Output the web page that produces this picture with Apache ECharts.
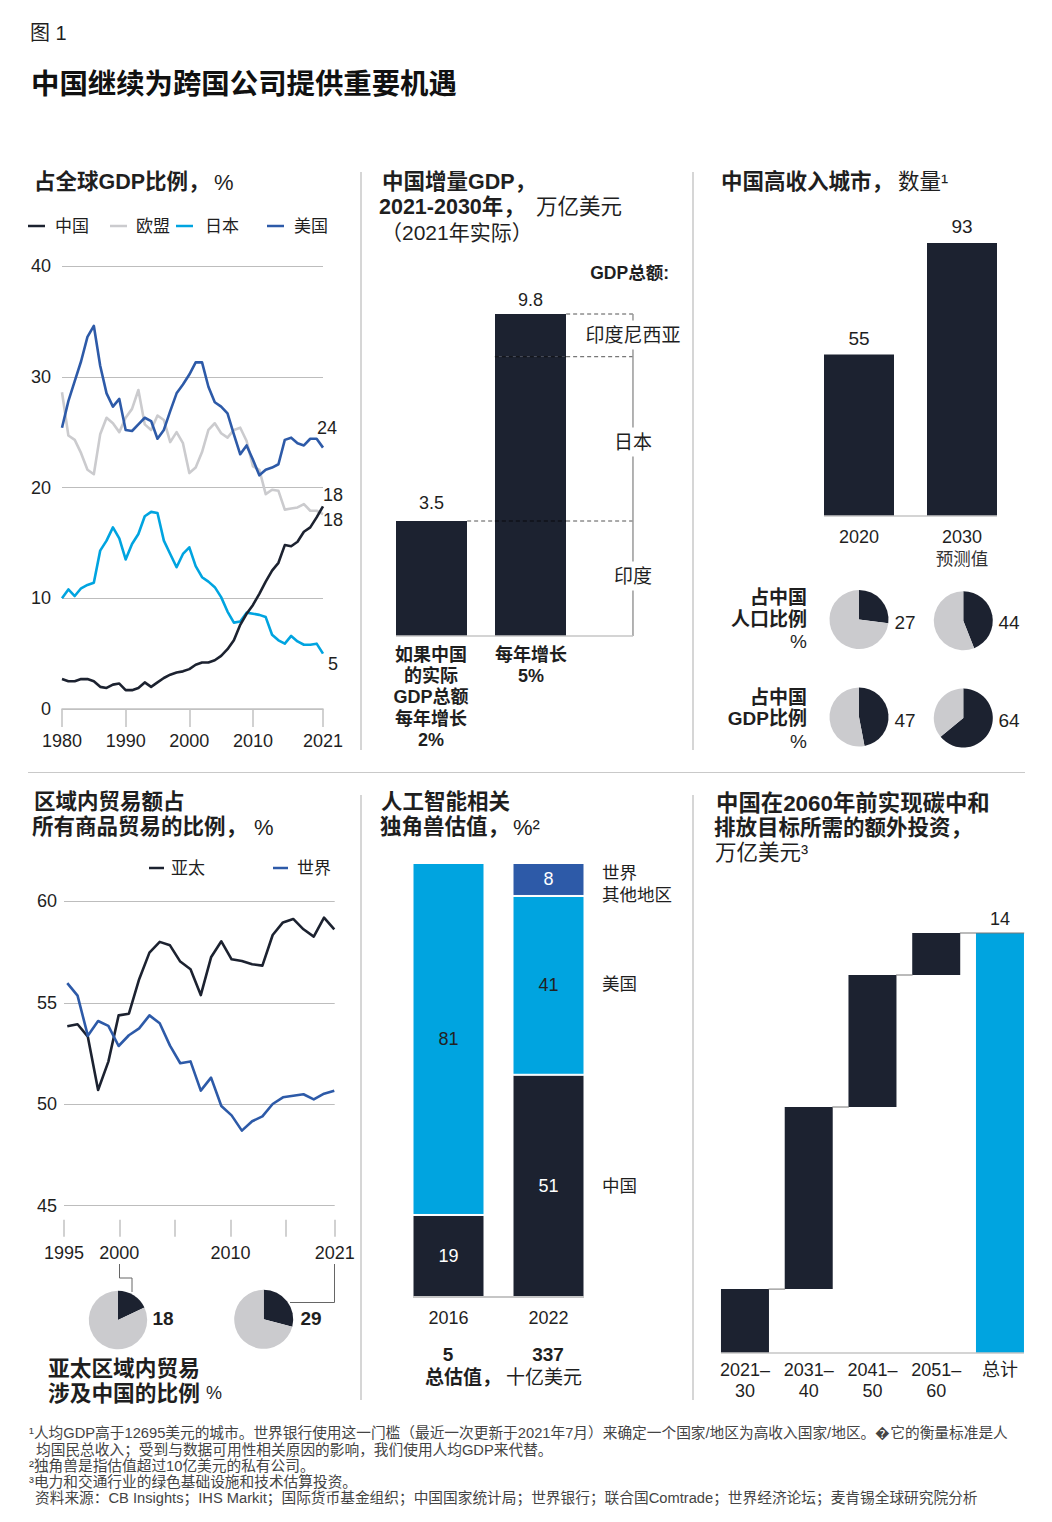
<!DOCTYPE html>
<html>
<head>
<meta charset="utf-8">
<title>中国继续为跨国公司提供重要机遇</title>
<script src="https://cdn.jsdelivr.net/npm/echarts@6/dist/echarts.min.js"></script>
<style>
	html, body { margin: 0; padding: 0; background: #fff; }
	#chart { width: 1052px; height: 1522px; }
</style>
</head>
<body>
<div id="chart"></div>
<script>
// 占全球GDP比例
const shareYears = [1980,1981,1982,1983,1984,1985,1986,1987,1988,1989,1990,1991,1992,1993,1994,1995,1996,1997,1998,1999,2000,2001,2002,2003,2004,2005,2006,2007,2008,2009,2010,2011,2012,2013,2014,2015,2016,2017,2018,2019,2020,2021];
const shareChina = [2.7,2.5,2.5,2.7,2.7,2.5,2.0,1.9,2.2,2.3,1.7,1.7,1.9,2.4,2.0,2.4,2.8,3.1,3.3,3.4,3.6,4.0,4.2,4.2,4.4,4.8,5.4,6.2,7.6,8.6,9.4,10.4,11.5,12.5,13.2,14.8,14.7,15.1,16.0,16.4,17.3,18.3];
const shareEU = [28.6,24.7,24.3,23.1,21.6,21.2,24.8,26.3,25.8,25.0,26.3,27.1,28.8,25.7,25.2,26.5,26.1,24.1,25.0,24.0,21.3,21.8,23.2,25.2,25.8,24.9,24.5,25.2,25.4,24.2,21.9,21.6,19.4,19.8,19.7,18.0,18.1,18.2,18.5,17.9,17.9,17.6];
const shareJapan = [10.0,10.8,10.2,10.9,11.2,11.4,14.3,15.2,16.4,15.4,13.5,14.9,15.8,17.4,17.8,17.7,15.2,14.0,12.8,14.0,14.6,12.9,11.9,11.5,11.0,10.1,8.8,7.8,7.9,8.7,8.6,8.5,8.3,6.7,6.2,5.9,6.6,6.1,5.8,5.8,5.9,5.0];
const shareUSA = [25.4,27.8,29.6,31.4,33.6,34.6,31.0,28.5,27.3,28.0,25.2,25.1,25.7,26.3,26.0,24.4,25.2,26.9,28.5,29.3,30.2,31.3,31.3,29.1,27.7,27.3,26.7,24.8,23.0,23.8,22.5,21.1,21.6,21.8,22.1,24.3,24.5,24.0,23.8,24.4,24.4,23.6];
const shareTicks = [1980, 1990, 2000, 2010, 2021];

// 中国增量GDP（第三列留给括号线和文字）
const gdpColumns = ['如果中国的实际GDP总额每年增长2%', '每年增长5%', ''];
const gdpIndia = [3.5, 3.5];
const gdpJapan = [0, 5.0];
const gdpIndonesia = [0, 1.3];
const gdpTotals = [3.5, 9.8];
const gdpBracketX = 3.035;

// 高收入城市
const cityYears = ['2020', '2030'];
const cityCounts = [55, 93];
const cityPopShare = [27, 44];
const cityGdpShare = [47, 64];

// 区域内贸易
const tradeYears = [1995,1996,1997,1998,1999,2000,2001,2002,2003,2004,2005,2006,2007,2008,2009,2010,2011,2012,2013,2014,2015,2016,2017,2018,2019,2020,2021];
const tradeAsia = [53.84,53.94,53.33,50.7,52.1,54.38,54.46,56.16,57.47,58.0,57.83,57.03,56.65,55.38,57.24,58.03,57.14,57.06,56.9,56.83,58.34,58.96,59.13,58.62,58.26,59.2,58.62];
const tradeWorld = [55.97,55.35,53.38,54.1,53.86,52.87,53.4,53.74,54.38,53.99,52.89,52.02,52.11,50.67,51.31,49.91,49.45,48.7,49.16,49.4,50.01,50.34,50.42,50.49,50.24,50.52,50.67];
const tradeTicks = [1994.68, 2000.07, 2005.5, 2010.9, 2016.3, 2021.04];
const tradeTickLabels = ['1995', '2000', '', '2010', '', '2021'];
const tradeChinaShare = [18, 29];

// 独角兽估值
const unicornYears = ['2016', '2022'];
const unicornChina = [18.9, 51.2];
const unicornUSA = [81.1, 41.2];
const unicornOther = [0, 7.6];

// 碳中和投资
const investPeriods = ['2021–\n30', '2031–\n40', '2041–\n50', '2051–\n60', '总计'];
const investBase = [0, 2.13, 8.2, 12.6, 0];
const investAdd = [2.13, 6.07, 4.4, 1.4, 14];
const investLevels = [2.13, 8.2, 12.6, 14];

const DARK = '#1c2230';
const GREY = '#cbcbce';
const SKY = '#00a4e0';
const BLUE = '#2d5aa8';
const FAMILY = '"Liberation Sans","Noto Sans CJK SC",sans-serif';
const INK = '#1f1f1f';

// 叠加用的隐藏数值轴序号
const GDP_X = 6, CITY_X = 7, UNICORN_X = 8, INVEST_X = 9;

const graphics = [];

function txt(x, y, text, size, bold, opts) {
	graphics.push({
		type: 'text', z: 20, silent: true,
		style: Object.assign({
			x: x, y: y, text: String(text),
			font: (bold ? 'bold ' : '') + size + 'px ' + FAMILY,
			fill: INK, align: 'left', verticalAlign: 'middle'
		}, opts || {})
	});
}

function rule(points, color, width) {
	graphics.push({
		type: 'polyline', z: 15, silent: true,
		shape: { points: points },
		style: { stroke: color, lineWidth: width, fill: null }
	});
}

// 版面文字
txt(30, 33, '图 1', 20, false);
txt(31, 84, '中国继续为跨国公司提供重要机遇', 28.4, true, { fill: '#111' });

txt(34, 182, '占全球GDP比例，', 21.5, true);
txt(214, 182, '%', 22, false);
txt(382, 182, '中国增量GDP，', 21.5, true);
txt(379, 207, '2021-2030年，', 21.5, true);
txt(536, 207, '万亿美元', 21.5, false);
txt(381, 232, '（2021年实际）', 21, false);
txt(721, 182, '中国高收入城市，', 21.5, true);
txt(898, 182, '数量¹', 21.5, false);

txt(34, 802, '区域内贸易额占', 21.5, true);
txt(32, 827, '所有商品贸易的比例，', 21.5, true);
txt(254, 827, '%', 22, false);
txt(381, 802, '人工智能相关', 21.5, true);
txt(380, 827, '独角兽估值，', 21.5, true);
txt(513, 827, '%²', 22, false);
txt(716, 803, '中国在2060年前实现碳中和', 22.4, true);
txt(714, 828, '排放目标所需的额外投资，', 21.5, true);
txt(715, 853, '万亿美元³', 21.5, false);

// 分隔线
rule([[361, 172], [361, 750]], '#c9c9c9', 1.5);
rule([[693, 172], [693, 750]], '#c9c9c9', 1.5);
rule([[28, 772.5], [1025, 772.5]], '#c9c9c9', 1);
rule([[361, 795], [361, 1400]], '#c9c9c9', 1.5);
rule([[693, 795], [693, 1400]], '#c9c9c9', 1.5);

// 图例
function legendItem(x0, x1, y, color, tx, label) {
	rule([[x0, y], [x1, y]], color, 2.5);
	txt(tx, y, label, 17, false);
}
legendItem(28, 45, 226, DARK, 55, '中国');
legendItem(110, 127, 226, GREY, 136, '欧盟');
legendItem(176, 193, 226, SKY, 205, '日本');
legendItem(267, 284, 226, BLUE, 294, '美国');
legendItem(149, 164, 868, DARK, 171, '亚太');
legendItem(273, 288, 868, BLUE, 297, '世界');

// 线尾数值
txt(327, 428, '24', 18, false, { align: 'center' });
txt(333, 495, '18', 18, false, { align: 'center' });
txt(333, 520, '18', 18, false, { align: 'center' });
txt(333, 664, '5', 18, false, { align: 'center' });

// GDP柱图文字
txt(669, 273, 'GDP总额:', 17.5, true, { align: 'right' });
[['印度尼西亚', 335], ['日本', 442], ['印度', 576]].forEach(function (d) {
	txt(633, d[1], d[0], 19, false, { align: 'center', backgroundColor: '#fff', padding: [5, 0] });
});
[['如果中国', 655], ['的实际', 676], ['GDP总额', 697], ['每年增长', 719], ['2%', 740]].forEach(function (d) {
	txt(431, d[1], d[0], 18, true, { align: 'center' });
});
txt(531, 655, '每年增长', 18, true, { align: 'center' });
txt(531, 676, '5%', 18, true, { align: 'center' });

// 城市饼图文字
txt(962, 559, '预测值', 17.5, false, { align: 'center', fill: '#333' });
[['占中国', 597, true], ['人口比例', 619, true], ['%', 641, false], ['占中国', 697, true], ['GDP比例', 718, true], ['%', 741, false]].forEach(function (d) {
	txt(807, d[1], d[0], 19, d[2], { align: 'right' });
});
txt(905, 622, cityPopShare[0], 19, false, { align: 'center' });
txt(1009, 622, cityPopShare[1], 19, false, { align: 'center' });
txt(905, 720, cityGdpShare[0], 19, false, { align: 'center' });
txt(1009, 720, cityGdpShare[1], 19, false, { align: 'center' });

// 贸易饼图文字
rule([[119.5, 1264], [119.5, 1278], [132, 1278], [132, 1292]], '#666', 1);
rule([[334.5, 1264], [334.5, 1302.5], [290, 1302.5]], '#666', 1);
txt(163, 1318, tradeChinaShare[0], 19, true, { align: 'center' });
txt(311, 1318, tradeChinaShare[1], 19, true, { align: 'center' });
txt(48, 1368, '亚太区域内贸易', 21.7, true);
txt(48, 1393, '涉及中国的比例', 21.7, true);
txt(206, 1393, '%', 18, false);

// 独角兽文字
txt(602, 873, '世界', 17.5, false);
txt(602, 895, '其他地区', 17.5, false);
txt(602, 984, '美国', 17.5, false);
txt(602, 1186, '中国', 17.5, false);
txt(448, 1354, '5', 19, true, { align: 'center' });
txt(548, 1354, '337', 19, true, { align: 'center' });
txt(425, 1377, '总估值，', 19, true);
txt(506, 1377, '十亿美元', 19, false);

// 脚注
const footnotes = [
	[29, 1433, '¹人均GDP高于12695美元的城市。世界银行使用这一门槛（最近一次更新于2021年7月）来确定一个国家/地区为高收入国家/地区。�它的衡量标准是人'],
	[36, 1450, '均国民总收入；受到与数据可用性相关原因的影响，我们使用人均GDP来代替。'],
	[29, 1466, '²独角兽是指估值超过10亿美元的私有公司。'],
	[29, 1482, '³电力和交通行业的绿色基础设施和技术估算投资。'],
	[35, 1498, '资料来源：CB Insights；IHS Markit；国际货币基金组织；中国国家统计局；世界银行；联合国Comtrade；世界经济论坛；麦肯锡全球研究院分析']
];
footnotes.forEach(function (d) {
	txt(d[0], d[1], d[2], 14.7, false, { fill: '#444' });
});

function zip(xs, ys) {
	return xs.map(function (x, i) { return [x, ys[i]]; });
}

function lineSeries(gridIndex, name, xs, ys, color, z) {
	return {
		type: 'line', name: name, xAxisIndex: gridIndex, yAxisIndex: gridIndex,
		data: zip(xs, ys), showSymbol: false, symbol: 'none', z: z, clip: false,
		lineStyle: { color: color, width: 2.6, join: 'round' }
	};
}

function barSeries(gridIndex, name, ys, color, width, extra) {
	return Object.assign({
		type: 'bar', name: name, xAxisIndex: gridIndex, yAxisIndex: gridIndex,
		data: ys, barWidth: width, itemStyle: { color: color }, z: 3
	}, extra || {});
}

// 叠加线：画在隐藏数值轴上
function overlay(xIndex, yIndex, points, style) {
	return {
		type: 'line', xAxisIndex: xIndex, yAxisIndex: yIndex, symbol: 'none', z: 5, clip: false,
		data: points, lineStyle: style
	};
}

function dashSeries(y, x0, x1, color) {
	return overlay(GDP_X, 1, [[x0, y], [x1, y]], { color: color, width: 1, type: [4, 3] });
}

function baseline(xIndex, yIndex, x0, x1, width) {
	return overlay(xIndex, yIndex, [[x0, 0], [x1, 0]], { color: '#c6c6c6', width: width || 1.5 });
}

function barXAxis(gridIndex, labels, margin) {
	return {
		type: 'category', gridIndex: gridIndex, data: labels,
		axisLine: { show: false }, axisTick: { show: false }, splitLine: { show: false },
		axisLabel: { show: margin > 0, interval: 0, margin: margin, color: INK, fontSize: 18, fontFamily: FAMILY, lineHeight: 21 }
	};
}

function overlayXAxis(gridIndex, count) {
	return { type: 'value', gridIndex: gridIndex, min: 0.5, max: count + 0.5, show: false, splitLine: { show: false } };
}

function hiddenY(gridIndex, max) {
	return { type: 'value', gridIndex: gridIndex, min: 0, max: max, show: false, splitLine: { show: false } };
}

function valueLabel(position, color, size, distance, formatter) {
	return {
		show: true, position: position, distance: distance, color: color, fontSize: size, fontFamily: FAMILY,
		formatter: formatter || function (p) { return p.value ? Math.round(p.value) : ''; }
	};
}

function pie(cx, cy, r, value) {
	return {
		type: 'pie', center: [cx, cy], radius: [0, r], startAngle: 90, clockwise: true,
		silent: true, label: { show: false }, labelLine: { show: false }, z: 4,
		data: [
			{ value: value, itemStyle: { color: DARK } },
			{ value: 100 - value, itemStyle: { color: GREY } }
		]
	};
}

const gdpLevel2 = gdpIndia[1] + gdpJapan[1];

const series = [
	// 占全球GDP比例
	lineSeries(0, '欧盟', shareYears, shareEU, GREY, 2),
	lineSeries(0, '日本', shareYears, shareJapan, SKY, 3),
	lineSeries(0, '中国', shareYears, shareChina, DARK, 4),
	lineSeries(0, '美国', shareYears, shareUSA, BLUE, 5),

	// 中国增量GDP
	barSeries(1, '印度', gdpIndia, DARK, 71, {
		stack: 'gdp',
		label: valueLabel('top', INK, 18, 9, function (p) { return p.dataIndex === 0 ? gdpTotals[0] : ''; })
	}),
	barSeries(1, '日本', gdpJapan, DARK, 71, { stack: 'gdp' }),
	barSeries(1, '印度尼西亚', gdpIndonesia, DARK, 71, {
		stack: 'gdp',
		label: valueLabel('top', INK, 18, 5, function (p) { return p.dataIndex === 1 ? gdpTotals[1] : ''; })
	}),
	dashSeries(gdpTotals[1], 2.36, gdpBracketX, '#555'),
	dashSeries(gdpLevel2, 1.64, 2.36, '#08090c'),
	dashSeries(gdpLevel2, 2.36, gdpBracketX, '#555'),
	dashSeries(gdpIndia[0], 1.36, 1.64, '#555'),
	dashSeries(gdpIndia[0], 1.64, 2.36, '#08090c'),
	dashSeries(gdpIndia[0], 2.36, gdpBracketX, '#555'),
	overlay(GDP_X, 1, [[gdpBracketX, 0], [gdpBracketX, gdpTotals[1]]], { color: '#999', width: 1.5 }),
	baseline(GDP_X, 1, 0.6414, gdpBracketX),

	// 高收入城市
	barSeries(2, '城市', cityCounts, DARK, 70, { label: valueLabel('top', INK, 19, 7) }),
	baseline(CITY_X, 2, 0.66, 2.34),
	pie(859, 619.5, 29.5, cityPopShare[0]),
	pie(963.3, 620.7, 29.5, cityPopShare[1]),
	pie(859, 717, 29.5, cityGdpShare[0]),
	pie(963.3, 718, 29.5, cityGdpShare[1]),

	// 区域内贸易
	lineSeries(3, '亚太', tradeYears, tradeAsia, DARK, 4),
	lineSeries(3, '世界', tradeYears, tradeWorld, BLUE, 5),
	pie(118, 1320, 29.2, tradeChinaShare[0]),
	pie(263.7, 1319.3, 29.5, tradeChinaShare[1]),

	// 独角兽估值
	barSeries(4, '中国', unicornChina, DARK, 72, {
		stack: 'unicorn',
		itemStyle: { color: DARK, borderColor: '#fff', borderWidth: 1 },
		label: valueLabel('inside', '#fff', 18)
	}),
	barSeries(4, '美国', unicornUSA, SKY, 72, {
		stack: 'unicorn',
		itemStyle: { color: SKY, borderColor: '#fff', borderWidth: 1 },
		label: valueLabel('inside', '#222', 18)
	}),
	barSeries(4, '世界其他地区', unicornOther, BLUE, 72, {
		stack: 'unicorn',
		itemStyle: { color: BLUE, borderColor: '#fff', borderWidth: 1 },
		label: valueLabel('inside', '#fff', 18)
	}),
	baseline(UNICORN_X, 4, 0.645, 2.355, 2),

	// 碳中和投资
	barSeries(5, '基数', investBase, 'transparent', 48, { stack: 'invest', silent: true }),
	{
		type: 'bar', name: '投资', xAxisIndex: 5, yAxisIndex: 5, stack: 'invest', barWidth: 48, z: 3,
		data: investAdd.map(function (v, i) {
			return { value: v, itemStyle: { color: i === investAdd.length - 1 ? SKY : DARK } };
		}),
		label: valueLabel('top', INK, 18, 5, function (p) { return p.dataIndex === investAdd.length - 1 ? p.value : ''; })
	},
	baseline(INVEST_X, 5, 0.6235, 5.3765)
];

// 瀑布图连接线
investLevels.forEach(function (level, i) {
	const last = i === investLevels.length - 1;
	series.push(overlay(INVEST_X, 5, [[i + 1 + 0.37, level], [last ? i + 2.38 : i + 2 - 0.37, level]], { color: '#777', width: 1 }));
});

const axisText = { color: INK, fontSize: 18, fontFamily: FAMILY };

const option = {
	animation: false,
	backgroundColor: '#fff',
	textStyle: { fontFamily: FAMILY },
	graphic: graphics,
	grid: [
		{ left: 62, top: 266, width: 261, height: 443 },
		{ left: 382, top: 314, width: 297, height: 322 },
		{ left: 807.5, top: 243, width: 206, height: 273 },
		{ left: 64, top: 901.3, width: 270.7, height: 304.4 },
		{ left: 398.5, top: 863, width: 200, height: 434 },
		{ left: 713.1, top: 933, width: 318.75, height: 420 }
	],
	xAxis: [
		{
			type: 'value', gridIndex: 0, min: 1980, max: 2021,
			splitLine: { show: false },
			axisLine: { show: true, onZero: false, lineStyle: { color: '#c2c2c2', width: 1.5 } },
			axisTick: { show: true, length: 18, customValues: shareTicks, lineStyle: { color: '#c2c2c2', width: 1.5 } },
			axisLabel: Object.assign({ customValues: shareTicks, margin: 23, formatter: function (v) { return String(v); } }, axisText)
		},
		barXAxis(1, gdpColumns, 0),
		barXAxis(2, cityYears, 10),
		{
			type: 'value', gridIndex: 3, min: tradeTicks[0], max: tradeTicks[5], offset: 14,
			splitLine: { show: false },
			axisLine: { show: false, onZero: false },
			axisTick: { show: true, length: 17, customValues: tradeTicks, lineStyle: { color: '#c2c2c2', width: 1.5 } },
			axisLabel: Object.assign({
				customValues: tradeTicks, margin: 24,
				formatter: function (v) { return tradeTickLabels[tradeTicks.indexOf(v)]; }
			}, axisText)
		},
		barXAxis(4, unicornYears, 10),
		barXAxis(5, investPeriods, 6),
		overlayXAxis(1, 3),
		overlayXAxis(2, 2),
		overlayXAxis(4, 2),
		overlayXAxis(5, 5)
	],
	yAxis: [
		{
			type: 'value', gridIndex: 0, min: 0, max: 40, interval: 10,
			axisLine: { show: false }, axisTick: { show: false },
			splitLine: { show: true, lineStyle: { color: '#bdbdbd', width: 1 } },
			axisLabel: Object.assign({ margin: 11 }, axisText)
		},
		hiddenY(1, gdpTotals[1]),
		hiddenY(2, 93),
		{
			type: 'value', gridIndex: 3, min: 45, max: 60, interval: 5,
			axisLine: { show: false }, axisTick: { show: false },
			splitLine: { show: true, lineStyle: { color: '#bdbdbd', width: 1 } },
			axisLabel: Object.assign({ margin: 7 }, axisText)
		},
		hiddenY(4, 100),
		hiddenY(5, 14)
	],
	series: series
};

const myChart = echarts.init(document.getElementById('chart'), null, { renderer: 'svg', width: 1052, height: 1522 });
myChart.setOption(option);
</script>
</body>
</html>
